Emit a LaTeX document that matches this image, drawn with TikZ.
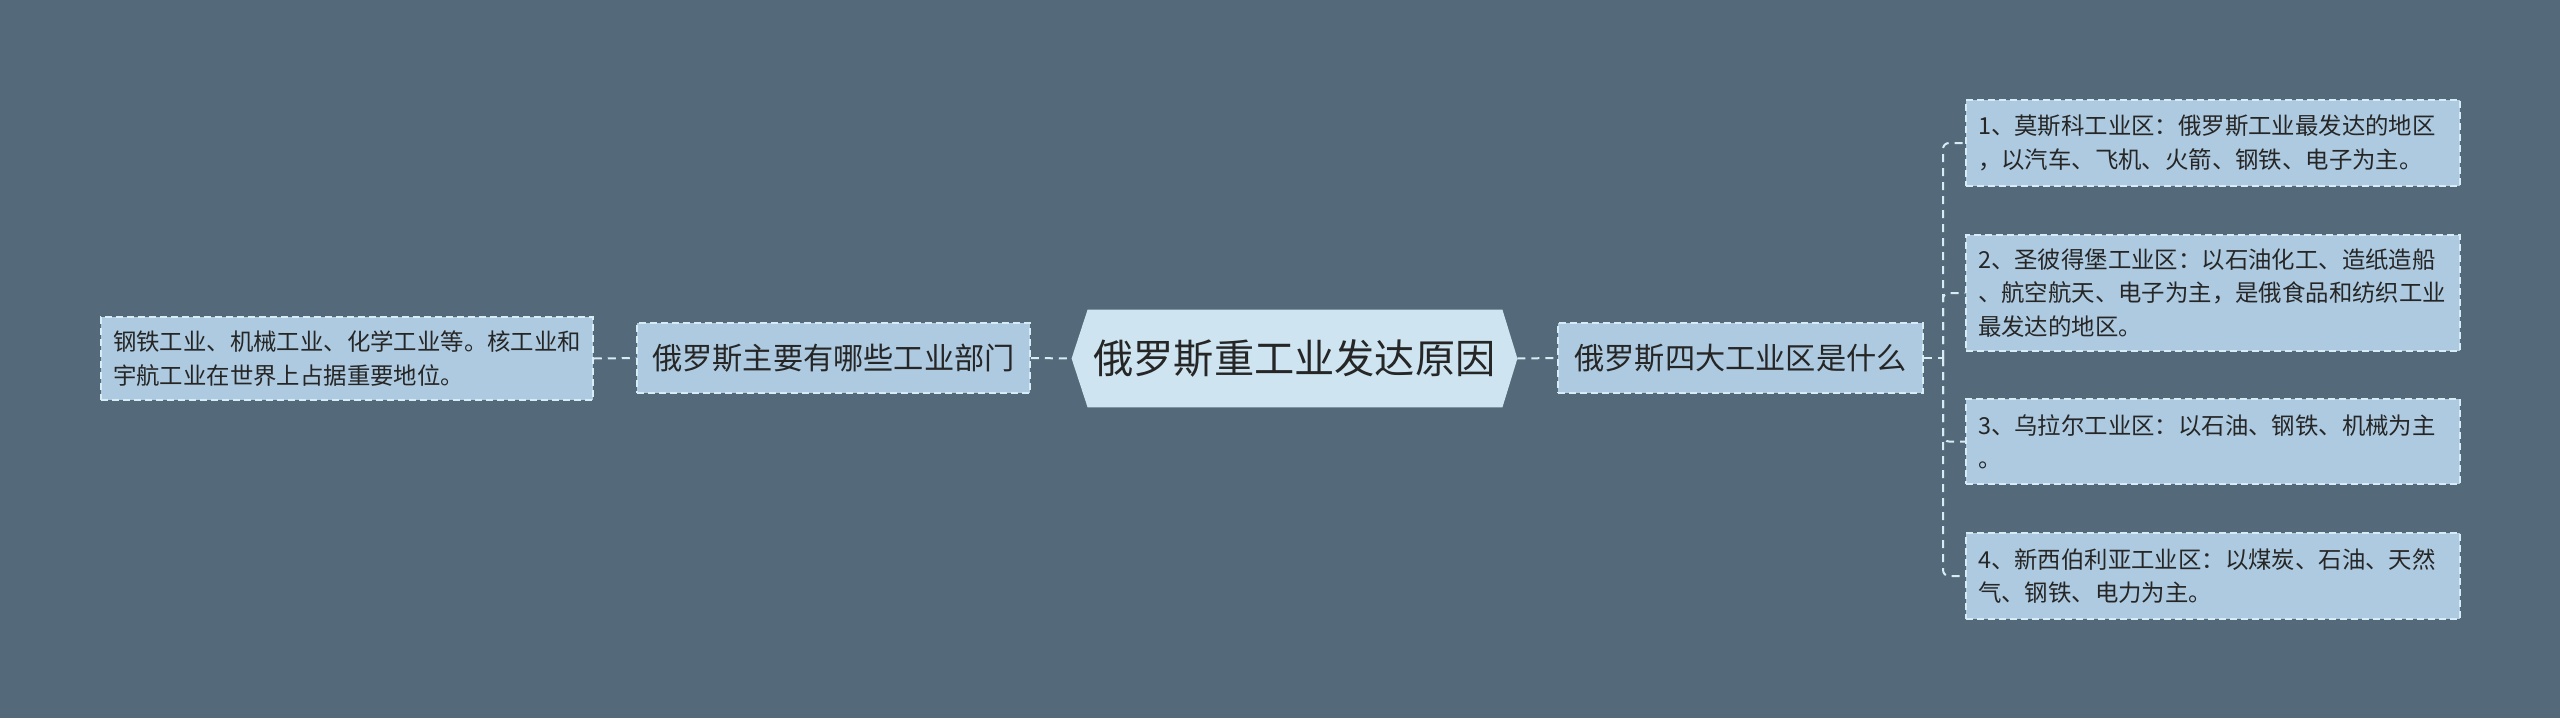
\documentclass[tikz,border=0pt]{standalone}
\usepackage{fontspec}
\setmainfont{Noto Sans CJK SC}
\usetikzlibrary{backgrounds,calc}
\definecolor{bg}{HTML}{546A7A}
\definecolor{cfill}{HTML}{CEE5F1}
\definecolor{nfill}{HTML}{ADCAE0}
\definecolor{lnc}{HTML}{D8ECF6}
\definecolor{txt}{HTML}{262626}
\begin{document}
\begin{tikzpicture}[x=0.5pt,y=-0.5pt,
  dashln/.style={draw=lnc, line width=1pt, dash pattern=on 4pt off 3pt},
  box/.style={draw=lnc, line width=0.75pt, dash pattern=on 3.5pt off 2pt, fill=nfill, text=txt, inner ysep=0pt},
  midbox/.style={box, font=\fontsize{15.1}{19}\selectfont, inner xsep=0pt, minimum height=35pt},
  leafbox/.style={box, font=\fontsize{11.7}{16.7}\selectfont, align=left, inner xsep=6pt, text width=235pt},
  centerbox/.style={text=txt, font=\fontsize{20.1}{24}\selectfont, inner sep=0pt, minimum width=222.5pt, minimum height=48.5pt}
]
\begin{scope}[on background layer]
  \fill[bg] (0,0) rectangle (2560,718);
\end{scope}
\useasboundingbox (0,0) rectangle (2560,718);

\node[centerbox] (c) at (1294.5,358.5) {俄罗斯重工业发达原因};
\begin{scope}[on background layer]
  \fill[cfill] (c.west) -- ($(c.north west)+(16,0)$) -- ($(c.north east)+(-15,0)$) -- (c.east)
     -- ($(c.south east)+(-15,0)$) -- ($(c.south west)+(16,0)$) -- cycle;
\end{scope}

\node[midbox, minimum width=196.5pt] (L) at (833.5,358) {俄罗斯主要有哪些工业部门};
\node[midbox, minimum width=182.5pt] (R) at (1740.5,358) {俄罗斯四大工业区是什么};

\node[leafbox, text width=234pt, minimum height=41.5pt] (LL) at (347,358.5)
  {钢铁工业、机械工业、化学工业等。核工业和\\宇航工业在世界上占据重要地位。};

\node[leafbox, minimum height=43pt] (R1) at (2213,143)
  {1、莫斯科工业区：俄罗斯工业最发达的地区\\，以汽车、飞机、火箭、钢铁、电子为主。};
\node[leafbox, minimum height=58pt] (R2) at (2213,293)
  {2、圣彼得堡工业区：以石油化工、造纸造船\\、航空航天、电子为主，是俄食品和纺织工业\\最发达的地区。};
\node[leafbox, minimum height=42.5pt] (R3) at (2213,441.5)
  {3、乌拉尔工业区：以石油、钢铁、机械为主\\。};
\node[leafbox, minimum height=43pt] (R4) at (2213,576)
  {4、新西伯利亚工业区：以煤炭、石油、天然\\气、钢铁、电力为主。};

\coordinate (j) at (1943,358);

\draw[dashln] (LL.east) -- (L.west);
\draw[dashln] (L.east) -- (c.west);
\draw[dashln] (c.east) -- (R.west);
\draw[dashln] (R.east) -- (j);
\foreach \n in {R1,R2,R3,R4}
  \draw[dashln, rounded corners=3pt] (j) |- (\n.west);
\end{tikzpicture}
\end{document}
